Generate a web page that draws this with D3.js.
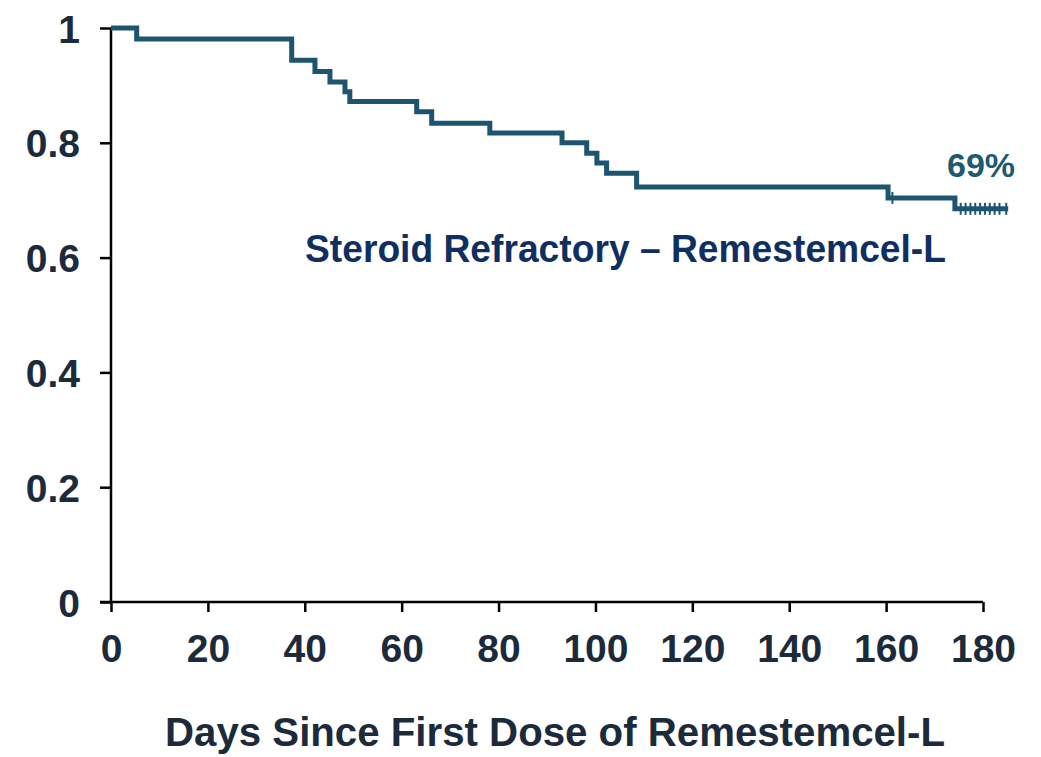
<!DOCTYPE html>
<html>
<head>
<meta charset="utf-8">
<script src="https://cdn.jsdelivr.net/npm/d3@7"></script>
<style>
  body { margin: 0; background: #fff; }
  svg text { font-family: "Liberation Sans", Arial, sans-serif; font-weight: bold; }
</style>
</head>
<body>
<svg id="chart"></svg>
<script>
// Kaplan-Meier steps
var stepDays = [0, 5.3, 37.3, 42.1, 45.2, 48.3, 49.3, 63.1, 66.2, 78.2, 93.1, 98.2, 100.3, 102.3, 108.5, 160.4, 174.2];
var stepSurvival = [1, 0.981, 0.944, 0.924, 0.906, 0.889, 0.872, 0.854, 0.834, 0.817, 0.800, 0.782, 0.765, 0.747, 0.723, 0.704, 0.685];
var lastDay = 185.2;
var censorDays = [161.3, 175.4, 176.4, 177.4, 178.4, 179.4, 180.4, 181.4, 182.4, 183.4, 184.8];
var xTicks = [0, 20, 40, 60, 80, 100, 120, 140, 160, 180];
var yTicks = [0, 0.2, 0.4, 0.6, 0.8, 1];
var seriesLabel = 'Steroid Refractory \u2013 Remestemcel-L';
var endLabel = '69%';
var xTitle = 'Days Since First Dose of Remestemcel-L';

(function() {
    'use strict';

    var WIDTH = 1041, HEIGHT = 757;
    var svg = d3.select('#chart').attr('width', WIDTH).attr('height', HEIGHT);

    var x = d3.scaleLinear().domain([0, 180]).range([111, 983]);
    var y = d3.scaleLinear().domain([0, 1]).range([602, 28]);

    var lineColor = '#1d5470', textColor = '#1c2b3c';

    // axes (domain lines drawn by hand so x line runs under the y ticks)
    var xAxis = svg.append('g')
        .attr('transform', 'translate(0,' + y(0) + ')')
        .call(d3.axisBottom(x).tickValues(xTicks).tickSize(10).tickSizeOuter(0).tickFormat(d3.format('d')));
    var yAxis = svg.append('g')
        .attr('transform', 'translate(' + x(0) + ',0)')
        .call(d3.axisLeft(y).tickValues(yTicks).tickSize(11).tickSizeOuter(0).tickFormat(d => d === 0 || d === 1 ? d : d3.format('.1f')(d)));

    [xAxis, yAxis].forEach(g => {
        g.select('.domain').remove();
        g.selectAll('.tick line').attr('stroke', '#000').attr('stroke-width', 2.5);
        g.selectAll('.tick text')
            .attr('fill', textColor)
            .style('font-size', '39px');
    });
    xAxis.selectAll('.tick text').attr('y', 60).attr('dy', 0);
    yAxis.selectAll('.tick text').attr('x', -31).attr('dy', '0.36em');

    svg.append('line')
        .attr('x1', x(0) - 11).attr('x2', x(180))
        .attr('y1', y(0)).attr('y2', y(0))
        .attr('stroke', '#000').attr('stroke-width', 2.5);
    svg.append('line')
        .attr('x1', x(0)).attr('x2', x(0))
        .attr('y1', y(1)).attr('y2', y(0))
        .attr('stroke', '#000').attr('stroke-width', 2.5);

    // survival curve
    var pts = stepDays.map((d, i) => [d, stepSurvival[i]]);
    pts.push([lastDay, stepSurvival[stepSurvival.length - 1]]);
    var line = d3.line()
        .x(d => x(d[0]))
        .y(d => y(d[1]))
        .curve(d3.curveStepAfter);

    svg.append('path')
        .datum(pts)
        .attr('d', line)
        .attr('fill', 'none')
        .attr('stroke', lineColor)
        .attr('stroke-width', 5)
        .attr('stroke-linejoin', 'miter');

    // censor marks
    function survivalAt(day) {
        var s = stepSurvival[0];
        stepDays.forEach((d, i) => { if (d <= day) s = stepSurvival[i]; });
        return s;
    }
    svg.selectAll('.censor').data(censorDays).enter()
        .append('line')
            .attr('class', 'censor')
            .attr('x1', d => x(d)).attr('x2', d => x(d))
            .attr('y1', d => y(survivalAt(d)) - 6)
            .attr('y2', d => y(survivalAt(d)) + 6)
            .attr('stroke', lineColor)
            .attr('stroke-width', 2);

    // labels
    svg.append('text')
        .attr('x', 981).attr('y', 177)
        .attr('text-anchor', 'middle')
        .attr('fill', '#1f5a72')
        .style('font-size', '34px')
        .text(endLabel);

    svg.append('text')
        .attr('x', 305).attr('y', 262)
        .attr('fill', '#0f2f63')
        .attr('textLength', 641)
        .attr('lengthAdjust', 'spacingAndGlyphs')
        .style('font-size', '39px')
        .text(seriesLabel);

    svg.append('text')
        .attr('x', 165).attr('y', 746)
        .attr('fill', textColor)
        .attr('textLength', 780)
        .attr('lengthAdjust', 'spacingAndGlyphs')
        .style('font-size', '40px')
        .text(xTitle);
})();
</script>
</body>
</html>
